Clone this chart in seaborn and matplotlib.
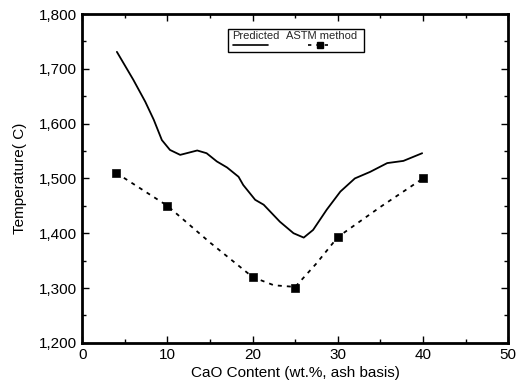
import matplotlib
matplotlib.use("Agg")
import matplotlib.pyplot as plt
import seaborn as sns
from matplotlib.patches import Rectangle
from matplotlib.lines import Line2D
from matplotlib.ticker import MultipleLocator, FuncFormatter

# Predicted curve
pred_x = [4.07, 6.0, 7.4, 8.4, 9.35, 10.3, 11.5, 12.5, 13.5, 14.6, 15.8, 17.0, 18.35, 18.9, 20.3, 21.3,
          23.2, 24.8, 26.0, 27.1, 28.7, 30.3, 32.0, 33.8, 35.8, 37.7, 39.9]
pred_y = [1731, 1680, 1640, 1607, 1570, 1552, 1543, 1547, 1551, 1546, 1531, 1520, 1503, 1488, 1461, 1452,
          1421, 1400, 1392, 1406, 1443, 1476, 1500, 1512, 1528, 1532, 1546]

# ASTM method measurements
astm_x = [4, 10, 20, 25, 30, 40]
astm_y = [1510, 1450, 1320, 1300, 1393, 1500]

# dashed fitted curve through ASTM points
fit_x = [4, 10, 15, 20, 22.5, 25, 27.5, 30, 35, 40]
fit_y = [1510, 1450, 1383, 1320, 1305, 1302, 1345, 1393, 1448, 1500]

sns.set_theme(style="ticks")
plt.rcParams['font.family'] = ['Liberation Sans', 'DejaVu Sans']

fig = plt.figure(figsize=(5.17, 3.90), dpi=100)
ax = fig.add_axes([0.159, 0.121, 0.824, 0.843])

sns.lineplot(x=pred_x, y=pred_y, ax=ax, color='black', lw=1.3, sort=False)
sns.lineplot(x=fit_x, y=fit_y, ax=ax, color='black', lw=1.3, linestyle=(0, (2.2, 2.8)), sort=False)
sns.scatterplot(x=astm_x, y=astm_y, ax=ax, color='black', marker='s', s=34, edgecolor='black', zorder=5)

ax.set_xlim(0, 50)
ax.set_ylim(1200, 1800)
ax.xaxis.set_major_locator(MultipleLocator(10))
ax.xaxis.set_minor_locator(MultipleLocator(5))
ax.yaxis.set_major_locator(MultipleLocator(100))
ax.yaxis.set_minor_locator(MultipleLocator(50))
ax.yaxis.set_major_formatter(FuncFormatter(lambda v, p: f"{int(v):,}"))
ax.tick_params(which='both', direction='in', top=True, right=True, color='black', labelsize=11, labelcolor='black')
ax.tick_params(which='major', length=5, width=1)
ax.tick_params(which='minor', length=3, width=1)
for s in ax.spines.values():
    s.set_linewidth(2)
    s.set_color('black')

ax.set_xlabel("CaO Content (wt.%, ash basis)", fontsize=11, color='black', labelpad=3)
ax.set_ylabel("Temperature( C)", fontsize=11, color='black', labelpad=9)

# legend box (custom layout: labels above handles)
ax.add_patch(Rectangle((0.343, 0.884), 0.319, 0.070, transform=ax.transAxes,
                       fill=True, facecolor='white', edgecolor='black', lw=1, zorder=6))
ax.text(0.352, 0.934, "Predicted", transform=ax.transAxes, fontsize=8, ha='left', va='center', zorder=7)
ax.text(0.479, 0.934, "ASTM method", transform=ax.transAxes, fontsize=8, ha='left', va='center', zorder=7)
ax.add_line(Line2D([0.354, 0.437], [0.906, 0.906], transform=ax.transAxes, color='black', lw=1.2, zorder=7))
ax.add_line(Line2D([0.531, 0.589], [0.906, 0.906], transform=ax.transAxes, color='black', lw=1.2,
                   linestyle=(0, (2, 3)), zorder=7))
ax.add_line(Line2D([0.558], [0.906], transform=ax.transAxes, color='black', marker='s', markersize=4, zorder=8, lw=0))

fig.savefig("out.png", dpi=100)
